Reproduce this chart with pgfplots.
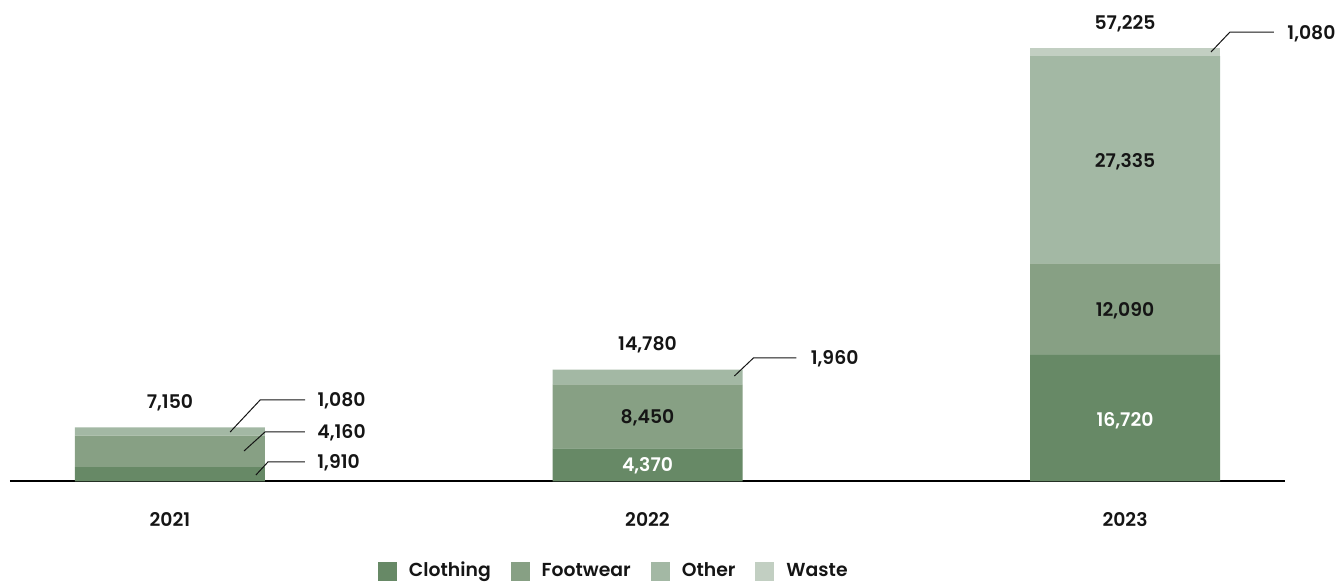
\documentclass[border=0pt]{standalone}
\usepackage{pgfplots}
\pgfplotsset{compat=1.18}
\usepackage{fontspec}
\setmainfont{Poppins}[UprightFont={* SemiBold}, BoldFont={* Bold}]
\definecolor{cloth}{HTML}{678966}
\definecolor{foot}{HTML}{87A084}
\definecolor{other}{HTML}{A3B8A4}
\definecolor{waste}{HTML}{C2CFC2}
\definecolor{txt}{HTML}{151515}
\newcommand{\lbl}{\fontsize{9.4}{11}\selectfont}
\tikzset{lab/.style={font=\lbl, text=txt, anchor=base, yshift=-3.5pt, inner sep=0pt}}
\begin{document}
\begin{tikzpicture}
\useasboundingbox (0,0) rectangle (670.5pt,291.5pt);
\begin{axis}[
  at={(5pt,50.75pt)}, anchor=south west,
  scale only axis, width=637.5pt, height=227.25pt,
  xmin=-0.335, xmax=2.335, ymin=0, ymax=60000,
  ybar stacked, bar width=95pt,
  axis y line=none, axis x line=bottom,
  x axis line style={-, line width=1pt, black},
  xtick={0,1,2}, xticklabels={2021,2022,2023},
  xtick style={draw=none},
  xticklabel style={font=\lbl, text=txt, anchor=base, yshift=-20.25pt, inner sep=0pt},
  clip=false,
  legend columns=4,
  legend style={draw=none, at={(0.2886,-0.197)}, anchor=west, inner sep=0pt, outer sep=0pt,
    font=\lbl, text=txt,
    /tikz/every even column/.append style={column sep=10pt},
    nodes={inner sep=0pt}},
  legend cell align=left,
  legend image code/.code={\fill[#1] (0pt,-4.75pt) rectangle (9.5pt,4.75pt);},
]
\addplot+[fill=cloth, draw=none] coordinates {(0,1910) (1,4370) (2,16720)};
\addlegendentry{\hspace{6pt}Clothing}
\addplot+[fill=foot, draw=none] coordinates {(0,4160) (1,8450) (2,12090)};
\addlegendentry{\hspace{6pt}Footwear}
\addplot+[fill=other, draw=none] coordinates {(0,1080) (1,1960) (2,27335)};
\addlegendentry{\hspace{6pt}Other}
\addplot+[fill=waste, draw=none] coordinates {(0,0) (1,0) (2,1080)};
\addlegendentry{\hspace{6pt}Waste}

\coordinate (t0) at (axis cs:0,10495);
\coordinate (t1) at (axis cs:1,18152);
\coordinate (t2) at (axis cs:2,60660);
\coordinate (i1) at (axis cs:1,8515);
\coordinate (i2) at (axis cs:1,2178);
\coordinate (i3) at (axis cs:2,8250);
\coordinate (i4) at (axis cs:2,22640);
\coordinate (i5) at (axis cs:2,42442);
\coordinate (l1) at (axis cs:0.126,6535);
\coordinate (l2) at (axis cs:0.155,4026);
\coordinate (l3) at (axis cs:0.180,858);
\coordinate (l4) at (axis cs:1.182,13927);
\coordinate (l5) at (axis cs:2.180,56700);
\end{axis}
% totals
\node[lab] at (t0) {7,150};
\node[lab] at (t1) {14,780};
\node[lab] at (t2) {57,225};
% inside labels
\node[lab] at (i1) {8,450};
\node[lab, text=white] at (i2) {4,370};
\node[lab, text=white] at (i3) {16,720};
\node[lab] at (i4) {12,090};
\node[lab] at (i5) {27,335};
% leader lines
\draw[line width=0.5pt, txt] (l1) -- ++(15pt,16pt) -- ++(22.5pt,0pt)
  node[lab, anchor=base west, xshift=6pt] {1,080};
\draw[line width=0.5pt, txt] (l2) -- ++(10.5pt,9.5pt) -- ++(20pt,0pt)
  node[lab, anchor=base west, xshift=6pt] {4,160};
\draw[line width=0.5pt, txt] (l3) -- ++(6pt,6.5pt) -- ++(18.5pt,0pt)
  node[lab, anchor=base west, xshift=6pt] {1,910};
\draw[line width=0.5pt, txt] (l4) -- ++(9.5pt,9pt) -- ++(21.5pt,0pt)
  node[lab, anchor=base west, xshift=7pt] {1,960};
\draw[line width=0.5pt, txt] (l5) -- ++(9.5pt,10pt) -- ++(22pt,0pt)
  node[lab, anchor=base west, xshift=6.5pt] {1,080};
\end{tikzpicture}
\end{document}
